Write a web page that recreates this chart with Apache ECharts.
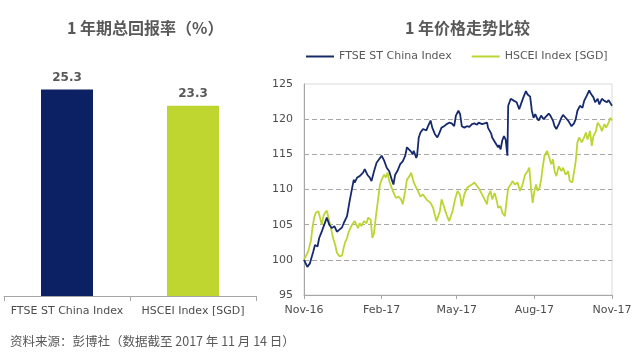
<!DOCTYPE html>
<html>
<head>
<meta charset="utf-8">
<script src="https://cdn.jsdelivr.net/npm/echarts@6/dist/echarts.min.js"></script>
<style>
  html, body { margin: 0; padding: 0; background: #ffffff; }
  #main { width: 640px; height: 352px; }
</style>
</head>
<body>
<div id="main"></div>
<script>
// left chart: 1 year total return (%)
var barCategories = ['FTSE ST China Index', 'HSCEI Index [SGD]'];
var barValues = [25.3, 23.3];

// right chart: price trend, x = days since 14 Nov 2016
var tickDays = [0, 92, 181, 273, 365];
var tickLabels = ['Nov-16', 'Feb-17', 'May-17', 'Aug-17', 'Nov-17'];

var ftseDays = [0, 4, 7, 11, 13, 16, 18, 21, 24, 27, 30, 33, 36, 39, 42, 45, 47, 51, 54, 57,
  59, 60, 63, 66, 70, 72, 75, 78, 80, 83, 86, 89, 92, 95, 98, 101, 104, 106, 108, 111,
  114, 117, 120, 122, 126, 129, 130, 133, 134, 136, 138, 141, 145, 147, 150, 152, 155, 158, 160, 163,
  166, 169, 172, 175, 178, 180, 183, 185, 187, 190, 193, 196, 199, 202, 205, 207, 211, 214, 217, 218,
  222, 223, 226, 228, 230, 231, 233, 235, 237, 239, 241, 242, 245, 247, 249, 252, 255, 257, 260, 263,
  265, 268, 270, 272, 274, 276, 278, 281, 284, 286, 290, 292, 295, 297, 299, 302, 305, 307, 310, 313,
  315, 317, 320, 322, 324, 327, 330, 332, 335, 338, 340, 343, 345, 348, 350, 353, 356, 359, 361, 364, 365];
var ftseValues = [100, 99.0, 99.5, 101.2, 102.1, 101.9, 103.1, 104, 105, 106, 105, 104.5, 104.8, 104, 104.3, 104.6, 105.2, 106.2, 108.3, 110.2,
  111.4, 111, 111.7, 111.9, 112.4, 112.9, 112.1, 111.7, 111.2, 112.6, 113.8, 114.3, 114.8, 114.1, 113.1, 112.6, 111.4, 110.7, 112.1, 112.7,
  113.6, 114, 114.8, 116, 115.5, 115, 115.5, 114.5, 114.8, 117.4, 118.1, 118.6, 118.4, 119, 119.8, 118.8, 117.9, 117.4, 117.9, 118.8,
  119, 119.3, 119.5, 119.4, 119, 120.5, 121.2, 120.7, 119, 118.8, 119, 118.9, 119.3, 119.4, 119.2, 119.5, 119.3, 119.4, 119.5, 118.8,
  117.9, 117.4, 116.8, 116.9, 116, 116.3, 115.7, 117, 117.6, 117.1, 114.8, 121.9, 122.9, 123.1, 122.6, 122.4, 121.4, 122.1, 123.1, 124,
  123.5, 123.2, 121.2, 120.2, 120.7, 120.2, 119.8, 120.5, 120, 120.2, 120.8, 120.5, 119.8, 119, 118.6, 119.3, 120.2, 120.6, 120.2, 119.8,
  119.4, 119, 119.4, 120, 121.2, 121.9, 121.6, 122.6, 123.3, 124.1, 123.6, 123.1, 122.4, 122.9, 122.1, 122.9, 122.6, 122.4, 122.7, 122.1, 121.9];

var hsceiDays = [0, 2, 5, 8, 10, 12, 14, 17, 19, 21, 23, 25, 27, 29, 32, 34, 37, 39, 42, 45,
  47, 49, 51, 53, 55, 57, 58, 60, 62, 64, 66, 68, 71, 74, 76, 79, 81, 83, 85, 88,
  90, 92, 95, 97, 99, 101, 104, 107, 109, 112, 115, 117, 120, 122, 125, 127, 130, 132, 135, 138,
  141, 145, 147, 150, 153, 155, 157, 159, 161, 163, 165, 167, 169, 172, 174, 176, 179, 182, 185, 187,
  190, 193, 196, 199, 202, 205, 207, 211, 214, 217, 218, 221, 223, 226, 229, 230, 233, 235, 238, 240,
  242, 245, 247, 250, 253, 256, 259, 262, 265, 267, 269, 271, 273, 275, 277, 279, 281, 283, 285, 288,
  290, 293, 295, 297, 299, 302, 305, 307, 310, 313, 315, 318, 320, 322, 324, 326, 329, 332, 334, 336,
  339, 341, 343, 346, 348, 351, 353, 356, 358, 361, 363, 365];
var hsceiValues = [100, 100.2, 101.2, 102.6, 104.5, 106, 106.7, 106.9, 106, 105, 106.2, 106.7, 107, 106, 104.5, 103.3, 102.1, 101, 100.5, 100.6,
  101.7, 102.6, 103.1, 104, 104.5, 105, 104.8, 105.5, 105, 104.5, 105.2, 104.8, 105.5, 105.2, 106, 105.7, 103.1, 103.8, 106, 108.8,
  110.7, 111.4, 112.1, 111.7, 112.4, 111.2, 110.2, 109.3, 108.8, 109, 108.6, 107.9, 109.8, 111.4, 111.9, 112.4, 111, 110.5, 109.8, 109,
  109.3, 108.6, 108.8, 108.1, 107.4, 106.4, 105.5, 106.2, 106.9, 108.6, 107.9, 107.1, 106.4, 105.5, 105.7, 106.9, 108.6, 109.8, 109.2, 107.6,
  109.3, 110.2, 110.5, 110.7, 111, 110.5, 110.2, 109.3, 108.6, 107.9, 109, 109.8, 108.6, 109.5, 108.1, 107.4, 107.6, 106.7, 106.2, 108.3,
  110.2, 110.7, 111.2, 110.7, 111, 109.8, 110.7, 112.1, 112.6, 113.1, 110.2, 108.1, 109.8, 110.7, 109.8, 110.2, 111.4, 113.3, 114.8, 115.5,
  114.8, 113.6, 114.3, 112.6, 111.9, 113.3, 112.6, 113.1, 112.1, 112.6, 111.2, 111, 111.2, 114, 116.7, 117.4, 116.7, 117.4, 118.1, 117.1,
  118.3, 116.2, 117.6, 118.3, 119.5, 119, 118.3, 119.3, 118.8, 119.5, 120.2, 119.8];

var barColors = ['#0c2164', '#bfd631'];
var lineColors = ['#172a6c', '#bcd533'];

function pairs(xs, ys) {
  var out = [];
  for (var i = 0; i < xs.length; i++) {
    out.push([xs[i], ys[i]]);
  }
  return out;
}

var chart = echarts.init(document.getElementById('main'), null, { renderer: 'canvas' });

var grey = '#595959';
var axisGrey = '#a6a6a6';
var latin = '"DejaVu Sans", sans-serif';
var cjk = '"Noto Sans CJK SC", sans-serif';

var option = {
  animation: false,
  backgroundColor: '#ffffff',
  title: [
    {
      text: '1 年期总回报率（%）',
      left: 62, top: 15,
      textStyle: { fontSize: 16, fontWeight: 'bold', color: grey, fontFamily: cjk }
    },
    {
      text: '1 年价格走势比较',
      left: 400, top: 15,
      textStyle: { fontSize: 16, fontWeight: 'bold', color: grey, fontFamily: cjk }
    },
    {
      text: '资料来源：彭博社（数据截至 2017 年 11 月 14 日）',
      left: 5, top: 330,
      textStyle: { fontSize: 12.5, fontWeight: 'normal', color: grey, fontFamily: cjk }
    }
  ],
  legend: {
    left: 306, top: 51,
    padding: 0,
    icon: 'rect',
    itemWidth: 28, itemHeight: 2,
    itemGap: 20,
    textStyle: { fontSize: 11, color: grey, fontFamily: latin },
    data: ['FTSE ST China Index', 'HSCEI Index [SGD]']
  },
  grid: [
    { left: 4, width: 252, top: 51, bottom: 56 },
    { left: 304, right: 28, top: 84, bottom: 57, show: true, borderColor: '#d9d9d9', borderWidth: 1 }
  ],
  xAxis: [
    {
      type: 'category', gridIndex: 0,
      data: barCategories,
      axisLine: { lineStyle: { color: axisGrey } },
      axisTick: { show: true, length: 5, lineStyle: { color: axisGrey } },
      axisLabel: { interval: 0, hideOverlap: false, color: '#4d4d4d', fontSize: 11, margin: 10, fontFamily: latin }
    },
    {
      type: 'value', gridIndex: 1,
      min: 0, max: 365,
      axisLine: { show: true, lineStyle: { color: axisGrey } },
      axisTick: { show: true, customValues: tickDays, length: 4, lineStyle: { color: axisGrey } },
      axisLabel: {
        customValues: tickDays,
        color: '#4d4d4d', fontSize: 11, margin: 10, fontFamily: latin,
        formatter: function (v) {
          var i = tickDays.indexOf(v);
          return i >= 0 ? tickLabels[i] : '';
        }
      },
      splitLine: { show: false }
    }
  ],
  yAxis: [
    { type: 'value', gridIndex: 0, min: 0, max: 30, show: false },
    {
      type: 'value', gridIndex: 1,
      min: 95, max: 125, interval: 5,
      axisLine: { show: true, lineStyle: { color: axisGrey } },
      axisTick: { show: false },
      axisLabel: { color: '#4d4d4d', fontSize: 11, margin: 11, fontFamily: latin },
      splitLine: { show: true, showMinLine: false, showMaxLine: false, lineStyle: { type: [5, 3], color: axisGrey, width: 1 } }
    }
  ],
  series: [
    {
      type: 'bar',
      xAxisIndex: 0, yAxisIndex: 0,
      data: barValues,
      barWidth: 52,
      itemStyle: {
        color: function (p) { return barColors[p.dataIndex]; }
      },
      label: {
        show: true, position: 'top', distance: 6,
        color: grey, fontSize: 12, fontWeight: 'bold', fontFamily: latin,
        formatter: function (p) { return p.value.toFixed(1); }
      }
    },
    {
      name: 'FTSE ST China Index',
      type: 'line',
      xAxisIndex: 1, yAxisIndex: 1,
      data: pairs(ftseDays, ftseValues),
      showSymbol: false,
      color: lineColors[0],
      lineStyle: { width: 1.8, color: lineColors[0] },
      z: 3
    },
    {
      name: 'HSCEI Index [SGD]',
      type: 'line',
      xAxisIndex: 1, yAxisIndex: 1,
      data: pairs(hsceiDays, hsceiValues),
      showSymbol: false,
      color: lineColors[1],
      lineStyle: { width: 1.8, color: lineColors[1] },
      z: 2
    }
  ]
};

chart.setOption(option);
window.addEventListener('resize', function () {
  chart.resize();
});
</script>
</body>
</html>
